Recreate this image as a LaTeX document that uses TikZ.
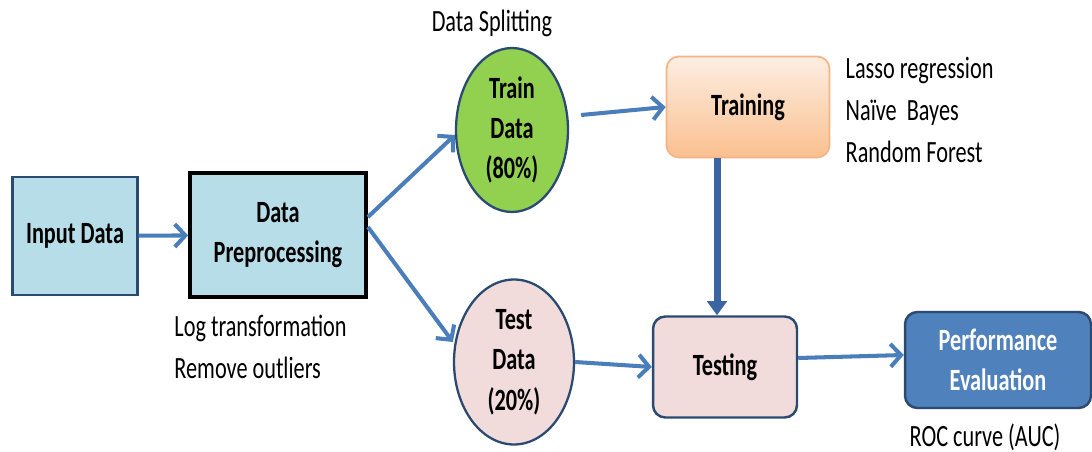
\documentclass[tikz,border=0pt]{standalone}
\usepackage{fontspec}
\setmainfont{Carlito}[FakeStretch=0.72]
\usetikzlibrary{arrows.meta}
\usetikzlibrary{positioning}
\usetikzlibrary{shapes.geometric}
\definecolor{boxblue}{HTML}{B7DEE8}
\definecolor{edgeblue}{HTML}{2B4A72}
\definecolor{flowblue}{HTML}{4A7EBB}
\definecolor{dropblue}{HTML}{3B65A2}
\definecolor{traingreen}{HTML}{92D050}
\definecolor{testpink}{HTML}{F2DCDB}
\definecolor{perfblue}{HTML}{4F81BD}
\definecolor{orangetop}{HTML}{FDEEE2}
\definecolor{orangebot}{HTML}{FAC08F}
\definecolor{orangeedge}{HTML}{F6B486}
\newcommand{\diagfont}{\fontsize{17.6pt}{23pt}\selectfont}
\newcommand{\notefont}{\fontsize{17.6pt}{23.8pt}\selectfont}
\tikzset{
    stage/.style={rectangle, fill=boxblue, font=\diagfont\bfseries, align=center, inner sep=0pt},
    part/.style={ellipse, draw=edgeblue, line width=1.3pt, font=\diagfont\bfseries, align=center, inner sep=0pt},
    task/.style={rectangle, rounded corners=7pt, font=\diagfont\bfseries, align=center, inner sep=0pt},
    note/.style={font=\notefont, align=left, inner sep=0pt},
    flow/.style={->, draw=flowblue, line width=2.3pt},
    drop/.style={-{Triangle[length=8pt,width=11pt]}, draw=dropblue, fill=dropblue, line width=4pt},
  }

\begin{document}
\begin{tikzpicture}[x=0.02cm, y=-0.02cm, >={Straight Barb[length=6pt,width=13pt]}]
  \useasboundingbox (0,0) rectangle (1092,452);
  % blocks
  \node[stage, draw=edgeblue, line width=1.4pt, minimum width=2.5cm, minimum height=2.36cm] (input) at (75,236) {Input Data};
  \node[stage, draw=black, line width=2.2pt, minimum width=3.52cm, minimum height=2.48cm] (prep) at (278,235) {Data\\Preprocessing};
  \node[part, fill=traingreen, minimum width=2.24cm, minimum height=3.28cm] (train) at (512,130) {Train\\Data\\(80\%)};
  \node[part, fill=testpink, minimum width=2.4cm, minimum height=3.3cm] (test) at (514,362) {Test\\Data\\(20\%)};
  \node[task, draw=orangeedge, line width=1pt, top color=orangetop, bottom color=orangebot, minimum width=3.26cm, minimum height=2.02cm] (training) at (748,107) {Training};
  \node[task, draw=edgeblue, fill=testpink, line width=1.4pt, minimum width=2.88cm, minimum height=2.02cm] (testing) at (725,367) {Testing};
  \node[task, draw=edgeblue, fill=perfblue, text=white, line width=1.4pt, minimum width=3.72cm, minimum height=1.92cm] (perf) at (998,360) {Performance\\Evaluation};

  % notes
  \node[note, above=0.2cm of train, xshift=-0.4cm] (split) {Data Splitting};
  \node[note, right=0.3cm of training, yshift=-0.06cm] (models) {Lasso regression\\Naïve\ \ Bayes\\Random Forest};
  \node[note, below right=0.32cm and -0.28cm of prep.south west] (prepnote) {Log transformation\\Remove outliers};
  \node[note, below=0.28cm of perf, xshift=-0.26cm] (roc) {ROC curve (AUC)};

  % connectors
  \draw[flow] (input) -- (prep);
  \draw[flow] ([yshift=0.36cm]prep.east) -- ([yshift=-0.1cm]train.west);
  \draw[flow] ([yshift=0.16cm]prep.east) -- ([yshift=0.4cm]test.west);
  \draw[flow] ([xshift=0.24cm,yshift=0.3cm]train.east) -- (training.west);
  \draw[flow] (test.east) -- (testing.west);
  \draw[flow] ([yshift=0.18cm]testing.east) -- ([yshift=0.1cm]perf.west);
  \draw[drop] ([xshift=-0.62cm]training.south) -- ([xshift=-0.62cm]training.south |- testing.north);
\end{tikzpicture}
\end{document}
